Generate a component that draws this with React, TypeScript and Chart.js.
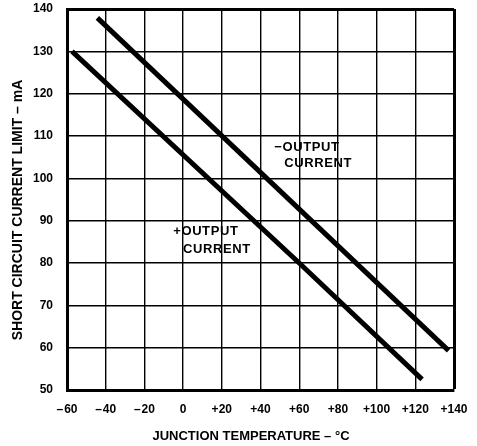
import React, { useEffect, useRef } from 'react';
import { Chart, registerables } from 'chart.js';

Chart.register(...registerables);

// ---- Data ----
const plusOutputTempC = [-57.4, 60, 123.5];
const plusOutputCurrentMA = [130, 80, 52.5];

const minusOutputTempC = [-44.3, 137.2];
const minusOutputCurrentMA = [137.9, 59.3];

const xTickValues = [-60, -40, -20, 0, 20, 40, 60, 80, 100, 120, 140];
const xTickLabels = ['–\u200A60', '–\u200A40', '–\u200A20', '0', '+20', '+40', '+60', '+80', '+100', '+120', '+140'];
const yTickValues = [50, 60, 70, 80, 90, 100, 110, 120, 130, 140];
const yTickLabels = ['50', '60', '70', '80', '90', '100', '110', '120', '130', '140'];

const X_TITLE = 'JUNCTION TEMPERATURE – °C';
const Y_TITLE = 'SHORT CIRCUIT CURRENT LIMIT – mA';

const curveLabelTexts = ['−OUTPUT', 'CURRENT', '+OUTPUT', 'CURRENT'];
const curveLabelTempC = [47.1, 52.3, -5.1, 0];
const curveLabelCurrentMA = [107.2, 103.5, 87.4, 83.3];

const FONT = '"Liberation Sans", Arial, Helvetica, sans-serif';

const textPlugin = {
  id: 'textLabels',
  afterDraw(chart: any) {
    const { ctx, scales, chartArea } = chart;
    const xs = scales.x;
    const ys = scales.y;
    ctx.save();
    ctx.fillStyle = '#000';
    ctx.textBaseline = 'middle';
    ctx.textAlign = 'left';
    ctx.font = `bold 13px ${FONT}`;
    try { (ctx as any).letterSpacing = '0.6px'; } catch (e) {}
    curveLabelTexts.forEach((t, i) => {
      ctx.fillText(t, xs.getPixelForValue(curveLabelTempC[i]), ys.getPixelForValue(curveLabelCurrentMA[i]));
    });
    try { (ctx as any).letterSpacing = '0px'; } catch (e) {}
    ctx.textAlign = 'center';
    ctx.font = `bold 13px ${FONT}`;
    ctx.fillText(X_TITLE, chartArea.left + 184, 436);
    ctx.translate(18, 210);
    ctx.rotate(-Math.PI / 2);
    ctx.font = `bold 14px ${FONT}`;
    ctx.fillText(Y_TITLE, 0, 0);
    ctx.restore();
  },
};

export default function App() {
  const canvasRef = useRef<HTMLCanvasElement | null>(null);

  useEffect(() => {
    const canvas = canvasRef.current;
    if (!canvas) return;
    const tickFont = { family: FONT, size: 12, weight: 'bold' as const };
    const lineStyle = {
      borderColor: '#000',
      borderWidth: 5,
      pointRadius: 0,
      tension: 0,
      borderCapStyle: 'butt' as const,
      borderJoinStyle: 'round' as const,
    };
    const chart = new Chart(canvas, {
      type: 'line',
      data: {
        datasets: [
          {
            label: '+OUTPUT CURRENT',
            data: plusOutputTempC.map((x, i) => ({ x, y: plusOutputCurrentMA[i] })),
            ...lineStyle,
          },
          {
            label: '−OUTPUT CURRENT',
            data: minusOutputTempC.map((x, i) => ({ x, y: minusOutputCurrentMA[i] })),
            ...lineStyle,
          },
        ],
      },
      options: {
        animation: false,
        responsive: true,
        maintainAspectRatio: false,
        layout: { padding: { top: 9, right: 23, left: 0, bottom: 0 } },
        plugins: { legend: { display: false }, tooltip: { enabled: false } },
        scales: {
          x: {
            type: 'linear',
            min: -60,
            max: 140,
            afterBuildTicks: (s: any) => {
              s.ticks = xTickValues.map((v) => ({ value: v }));
            },
            afterFit: (s: any) => {
              s.height = 56;
              s.paddingLeft = 0;
              s.paddingRight = 0;
            },
            ticks: {
              callback: (_v: any, i: number) => xTickLabels[i],
              font: tickFont,
              color: '#000',
              padding: 12,
              maxRotation: 0,
              autoSkip: false,
            },
            grid: {
              color: '#000',
              lineWidth: (c: any) => (c.index === xTickValues.length - 1 ? 3 : 1.4),
              drawTicks: false,
            },
            border: { color: '#000', width: 3 },
          },
          y: {
            type: 'linear',
            min: 50,
            max: 140,
            afterBuildTicks: (s: any) => {
              s.ticks = yTickValues.map((v) => ({ value: v }));
            },
            afterFit: (s: any) => {
              s.width = 67;
              s.paddingTop = 0;
              s.paddingBottom = 0;
            },
            ticks: {
              callback: (_v: any, i: number) => yTickLabels[i],
              font: tickFont,
              color: '#000',
              padding: 14,
              autoSkip: false,
            },
            grid: {
              color: '#000',
              lineWidth: (c: any) => (c.index === yTickValues.length - 1 ? 3 : 1.4),
              drawTicks: false,
            },
            border: { color: '#000', width: 3 },
          },
        },
      },
      plugins: [textPlugin],
    });
    return () => chart.destroy();
  }, []);

  return (
    <div style={{ position: 'absolute', left: 0, top: 0, width: 477, height: 446, background: '#fff' }}>
      <canvas ref={canvasRef} />
    </div>
  );
}
